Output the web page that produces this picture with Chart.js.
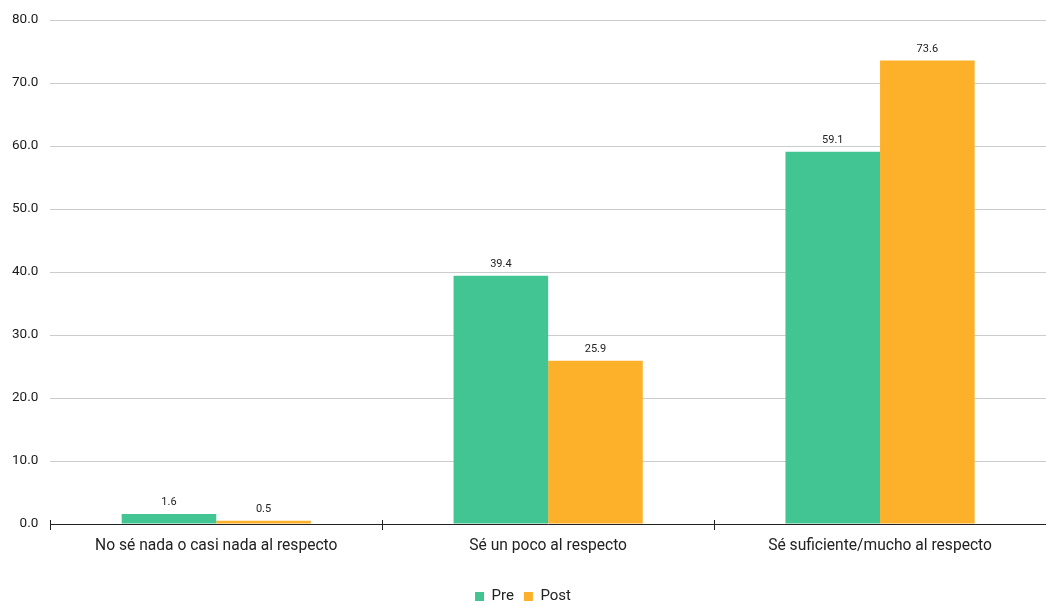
<!DOCTYPE html>
<html>
<head>
<meta charset="utf-8">
<script src="https://cdn.jsdelivr.net/npm/chart.js@4"></script>
<style>
  html, body { margin: 0; padding: 0; background: #fff; }
  #wrap { width: 1046px; height: 605px; }
</style>
</head>
<body>
<div id="wrap"><canvas id="chart"></canvas></div>
<script>
const categories = [
    'No sé nada o casi nada al respecto',
    'Sé un poco al respecto',
    'Sé suficiente/mucho al respecto'
]
const preValues = [1.6, 39.4, 59.1]
const postValues = [0.5, 25.9, 73.6]
const seriesNames = ['Pre', 'Post']

Chart.defaults.font.family = 'Roboto, "Noto Sans", sans-serif'
Chart.defaults.color = '#222'

// value labels above each bar, plus the small tick marks crossing the base line
const barLabels = {
    id: 'barLabels',
    afterDatasetsDraw(chart) {
        const ctx = chart.ctx
        ctx.save()
        ctx.font = '11px Roboto, sans-serif'
        ctx.fillStyle = '#222'
        ctx.textAlign = 'center'
        ctx.textBaseline = 'bottom'
        chart.data.datasets.forEach((ds, i) => {
            chart.getDatasetMeta(i).data.forEach((bar, j) => {
                ctx.fillText(ds.data[j].toFixed(1), bar.x, bar.y - 6)
            })
        })
        const x = chart.scales.x
        const y0 = chart.scales.y.getPixelForValue(0)
        ctx.strokeStyle = '#222'
        ctx.lineWidth = 1
        for (let i = 0; i <= categories.length; i++) {
            const px = Math.round(x.left + (x.right - x.left) * i / categories.length) + 0.5
            ctx.beginPath()
            ctx.moveTo(px, y0 - 4)
            ctx.lineTo(px, y0)
            ctx.stroke()
        }
        ctx.restore()
    }
}

const ctx = document.getElementById('chart').getContext('2d')
const chart = new Chart(ctx, {
    type: 'bar',
    data: {
        labels: categories,
        datasets: [
            { label: seriesNames[0], data: preValues, backgroundColor: '#42c592' },
            { label: seriesNames[1], data: postValues, backgroundColor: '#fdb02a' }
        ]
    },
    options: {
        responsive: true,
        maintainAspectRatio: false,
        animation: false,
        layout: { padding: { top: 4, right: 0, left: 0, bottom: -9 } },
        datasets: {
            bar: { categoryPercentage: 0.57, barPercentage: 1.0 }
        },
        scales: {
            x: {
                grid: { drawOnChartArea: false, color: '#222', tickLength: 6 },
                border: { color: '#222', width: 1 },
                ticks: { font: { size: 15.6 }, color: '#222', padding: 7 },
                afterFit(scale) { scale.height = 55 }
            },
            y: {
                min: 0,
                max: 80,
                grid: { color: '#cccccc', drawTicks: false },
                border: { display: false },
                ticks: {
                    stepSize: 10,
                    padding: 12,
                    font: { size: 13.5 },
                    color: '#1a1a1a',
                    callback: (v) => Number(v).toFixed(1)
                }
            }
        },
        plugins: {
            legend: {
                position: 'bottom',
                labels: {
                    boxWidth: 9,
                    boxHeight: 9,
                    padding: 10,
                    font: { size: 15 },
                    color: '#222'
                }
            },
            tooltip: { enabled: false }
        }
    },
    plugins: [barLabels]
})
</script>
</body>
</html>
